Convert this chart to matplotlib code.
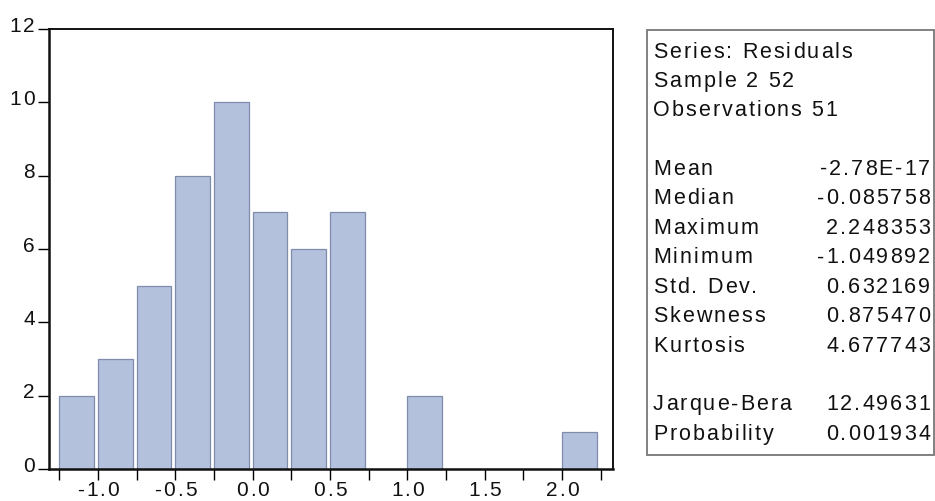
import numpy as np
import matplotlib.pyplot as plt
from matplotlib.patches import Rectangle
from matplotlib.ticker import MultipleLocator
from matplotlib.transforms import offset_copy
from matplotlib import font_manager
from matplotlib.ft2font import FT2Font

plt.rcParams['font.family'] = ['Liberation Sans', 'DejaVu Sans']

# histogram of residuals (bin width 0.25)
bin_left = [-1.25, -1.0, -0.75, -0.5, -0.25, 0.0, 0.25, 0.5, 0.75, 1.0, 1.25, 1.5, 1.75, 2.0]
counts = [2, 3, 5, 8, 10, 7, 6, 7, 0, 2, 0, 0, 0, 1]
xtick_vals = [-1.0, -0.5, 0.0, 0.5, 1.0, 1.5, 2.0]
xtick_labels = ['-1.0', '-0.5', '0.0', '0.5', '1.0', '1.5', '2.0']
ytick_vals = [0, 2, 4, 6, 8, 10, 12]

# summary statistics box
stat_header = ['Series: Residuals', 'Sample 2 52', 'Observations 51']
stat_names = ['Mean', 'Median', 'Maximum', 'Minimum', 'Std. Dev.', 'Skewness', 'Kurtosis']
stat_values = ['-2.78E-17', '-0.085758', '2.248353', '-1.049892', '0.632169', '0.875470', '4.677743']
test_names = ['Jarque-Bera', 'Probability']
test_values = ['12.49631', '0.001934']

W, H = 935, 501
fig = plt.figure(figsize=(W / 100, H / 100), dpi=100)
ax = fig.add_axes([49 / W, 1 - 469 / H, (613 - 49) / W, (469 - 29) / H])

# letter-spaced text, the EViews output has wide tracking
font = FT2Font(font_manager.findfont(font_manager.FontProperties(family='Liberation Sans')))
TXT = '#111111'


def spaced(x, y, s, size, trans, ha='left', sp=2.0, dx=0, dy=0):
    font.set_size(size, 100)
    adv = [font.load_char(ord(c)).linearHoriAdvance / 65536 for c in s]
    total = sum(adv) + sp * (len(s) - 1)
    pos = {'left': 0, 'right': -total, 'center': -total / 2}[ha]
    for c, a in zip(s, adv):
        if c != ' ':
            t = offset_copy(trans, fig=fig, x=dx + pos, y=dy, units='dots')
            fig.text(x, y, c, fontsize=size, transform=t, ha='left', va='baseline', color=TXT)
        pos += a + sp


ax.bar(bin_left, counts, width=0.225, align='edge',
       color='#b4c1dc', edgecolor='#7f8cab', linewidth=0.9)

ax.set_xlim(-1.3165, 2.329)
ax.set_ylim(0, 12)
ax.set_yticks(ytick_vals)
ax.set_xticks(xtick_vals)
ax.xaxis.set_minor_locator(MultipleLocator(0.25))
ax.tick_params(axis='both', direction='out', length=8, width=1, labelbottom=False, labelleft=False)
ax.tick_params(axis='x', which='minor', direction='out', length=8, width=1)
for s in ax.spines.values():
    s.set_linewidth(1.4)
    s.set_color('#111111')
ax.spines['left'].set_linewidth(1.8)
ax.spines['bottom'].set_linewidth(1.8)

# tick labels
for v, lab in zip(xtick_vals, xtick_labels):
    spaced(v, 0, lab, 15, ax.get_xaxis_transform(), ha='center', sp=2.0, dy=-27)
for v in ytick_vals:
    spaced(0, v, str(v), 15, ax.get_yaxis_transform(), ha='right', sp=2.0, dx=-14, dy=-2.5)

# stats box (pixel based figure coords)
box = Rectangle((647 / W, 1 - 455 / H), (934 - 647) / W, (455 - 30) / H,
                transform=fig.transFigure, fill=False, edgecolor='#777777', linewidth=1.3)
fig.patches.append(box)

fs = 15.5
line_h = 29.4
y0 = 50
lx, rx = 653 / W, 930 / W


def row_y(i):
    return 1 - (y0 + i * line_h + 7.5) / H


for i, t in enumerate(stat_header):
    spaced(lx, row_y(i), t, fs, fig.transFigure)
for i, (n, v) in enumerate(zip(stat_names, stat_values)):
    spaced(lx, row_y(i + 4), n, fs, fig.transFigure)
    spaced(rx, row_y(i + 4), v, fs, fig.transFigure, ha='right')
for i, (n, v) in enumerate(zip(test_names, test_values)):
    spaced(lx, row_y(i + 12), n, fs, fig.transFigure)
    spaced(rx, row_y(i + 12), v, fs, fig.transFigure, ha='right')

fig.savefig('out.png', dpi=100)
